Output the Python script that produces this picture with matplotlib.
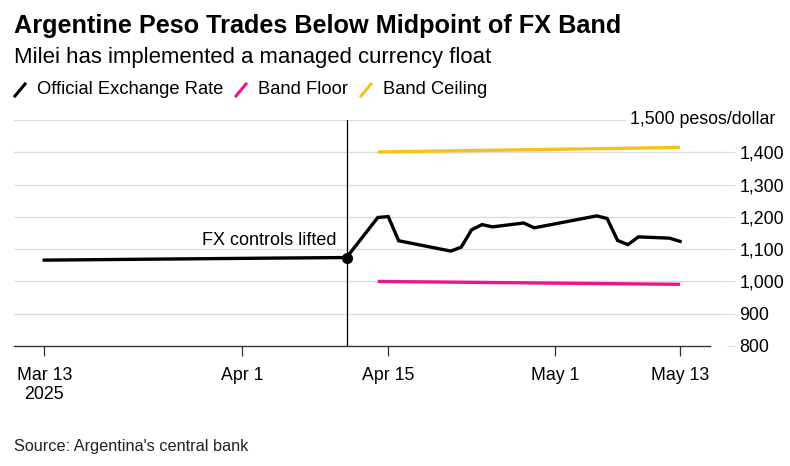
import matplotlib
matplotlib.use("Agg")
import matplotlib.pyplot as plt
import matplotlib.dates as mdates
from matplotlib.lines import Line2D
import numpy as np
import pandas as pd

plt.rcParams['font.family'] = ['Liberation Sans', 'DejaVu Sans']

# ---------------- data ----------------
rate_dates = ["2025-03-13", "2025-03-20", "2025-03-27", "2025-04-03", "2025-04-11",
              "2025-04-14", "2025-04-15", "2025-04-16", "2025-04-21", "2025-04-22",
              "2025-04-23", "2025-04-24", "2025-04-25", "2025-04-28", "2025-04-29",
              "2025-05-05", "2025-05-06", "2025-05-07", "2025-05-08", "2025-05-09",
              "2025-05-12", "2025-05-13"]
rate_values = [1066, 1068, 1070, 1072, 1074,
               1198, 1201, 1126, 1094, 1106,
               1160, 1176, 1169, 1181, 1166,
               1203, 1195, 1127, 1114, 1138,
               1134, 1124]

band_dates = ["2025-04-14", "2025-05-13"]
band_floor = [1000, 991]
band_ceiling = [1401, 1415]

event_date = "2025-04-11"
event_value = 1074
event_label = "FX controls lifted"

x_ticks = ["2025-03-13", "2025-04-01", "2025-04-15", "2025-05-01", "2025-05-13"]
x_ticklabels = ["Mar 13\n2025", "Apr 1", "Apr 15", "May 1", "May 13"]
y_ticks = [800, 900, 1000, 1100, 1200, 1300, 1400]
y_ticklabels = ["800", "900", "1,000", "1,100", "1,200", "1,300", "1,400"]
y_top_label = "1,500 pesos/dollar"

title = "Argentine Peso Trades Below Midpoint of FX Band"
subtitle = "Milei has implemented a managed currency float"
legend_labels = ["Official Exchange Rate", "Band Floor", "Band Ceiling"]
source = "Source: Argentina's central bank"

C_RATE = "#000000"
C_FLOOR = "#EC168C"
C_CEIL = "#F6C21A"

# ---------------- figure ----------------
W, H = 790, 466
fig = plt.figure(figsize=(W / 100, H / 100), dpi=100)

ax_l, ax_r, ax_t, ax_b = 14, 727, 120, 346
ax = fig.add_axes([ax_l / W, 1 - ax_b / H, (ax_r - ax_l) / W, (ax_b - ax_t) / H])

rd = pd.to_datetime(rate_dates)
bd = pd.to_datetime(band_dates)

ax.plot(bd, band_ceiling, color=C_CEIL, lw=2.4, solid_capstyle='butt', zorder=3)
ax.plot(bd, band_floor, color=C_FLOOR, lw=2.4, solid_capstyle='butt', zorder=3)
ax.plot(rd, rate_values, color=C_RATE, lw=2.4, solid_joinstyle='miter', zorder=4)

ed = pd.Timestamp(event_date)
ax.axvline(ed, color="#000000", lw=0.9, zorder=2)
ax.plot([ed], [event_value], 'o', color="black", ms=7, zorder=5)
ax.text(ed - pd.Timedelta(days=1.0), 1127, event_label, ha='right', va='center',
        fontsize=13, color="black", zorder=6)

x0 = pd.Timestamp("2025-03-13") - pd.Timedelta(days=2.9)
x1 = pd.Timestamp("2025-05-13") + pd.Timedelta(days=4.5)
xs_end = pd.Timestamp("2025-05-13") + pd.Timedelta(days=2.9)
ax.set_xlim(x0, x1)
ax.set_ylim(800, 1500)

# grid
for v in y_ticks[1:] + [1500]:
    ax.axhline(v, color="#dcdcdc", lw=1.0, zorder=1)

ax.text(775 / W, 1 - 120 / H, y_top_label, transform=fig.transFigure, ha='right', va='center',
        fontsize=12.8, color="black",
        bbox=dict(facecolor='white', edgecolor='none', pad=2.5), zorder=6)

ax.set_yticks(y_ticks)
ax.set_yticklabels(y_ticklabels)
ax.yaxis.tick_right()
ax.tick_params(axis='y', length=6, color="#dcdcdc", pad=3, labelsize=12.8, labelcolor="black")

ax.set_xticks(pd.to_datetime(x_ticks))
ax.set_xticklabels(x_ticklabels)
ax.tick_params(axis='x', length=7, color="#333333", width=0.9, pad=8, labelsize=12.8)

for s in ['top', 'right', 'left']:
    ax.spines[s].set_visible(False)
ax.spines['bottom'].set_color("#333333")
ax.spines['bottom'].set_linewidth(1.0)
ax.spines['bottom'].set_bounds(mdates.date2num(x0), mdates.date2num(xs_end))
ax.set_facecolor('none')

# ---------------- text ----------------
fig.text(14 / W, 1 - 26 / H, title, fontsize=18.2, fontweight='bold', va='center', ha='left')
fig.text(14 / W, 1 - 58 / H, subtitle, fontsize=15.9, va='center', ha='left')

# legend
leg_y = 90
items = [(15, 37, C_RATE, legend_labels[0]),
         (236, 258, C_FLOOR, legend_labels[1]),
         (361, 383, C_CEIL, legend_labels[2])]
for xs, xt, c, lab in items:
    fig.add_artist(Line2D([xs / W, (xs + 10) / W], [1 - (leg_y + 6) / H, 1 - (leg_y - 6) / H],
                          color=c, lw=2.2, transform=fig.transFigure))
    fig.text(xt / W, 1 - leg_y / H, lab, fontsize=13.2, va='center', ha='left')

fig.text(14 / W, 1 - 447 / H, source, fontsize=11.7, va='center', ha='left', color="#222222")

fig.savefig("out.png", dpi=100, facecolor='white')
